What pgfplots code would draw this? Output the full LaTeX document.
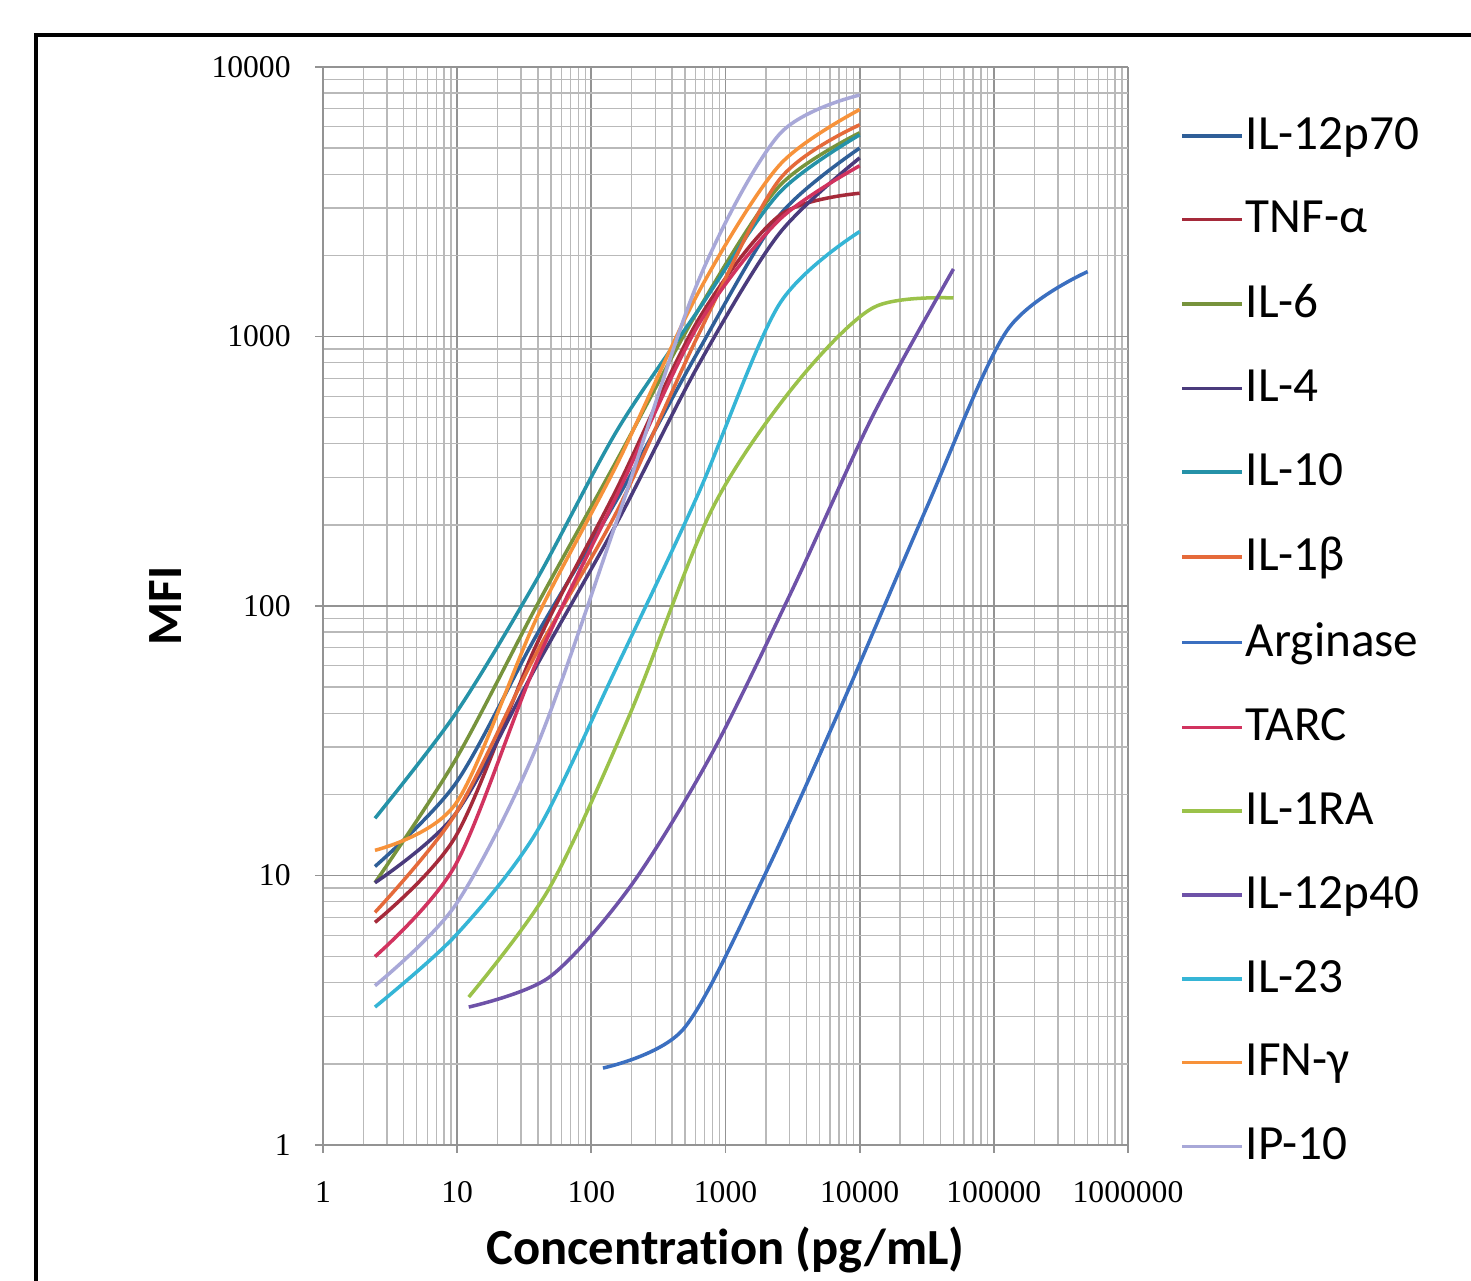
\documentclass[border=0pt]{standalone}
\usepackage{fontspec}
\setmainfont{Carlito}[Ligatures=NoCommon]
\newfontfamily\tickfont{Liberation Serif}
\usepackage{pgfplots}
\pgfplotsset{compat=1.18}

\definecolor{cP70}{HTML}{2F5F98}
\definecolor{cTNF}{HTML}{A52A3A}
\definecolor{cIL6}{HTML}{77933C}
\definecolor{cIL4}{HTML}{4A3B7C}
\definecolor{cIL10}{HTML}{2592A8}
\definecolor{cIL1b}{HTML}{E56A3A}
\definecolor{cArg}{HTML}{3B6FC0}
\definecolor{cTARC}{HTML}{D1335F}
\definecolor{cRA}{HTML}{9BC24A}
\definecolor{cP40}{HTML}{6E52A8}
\definecolor{cIL23}{HTML}{35B5D6}
\definecolor{cIFN}{HTML}{F7923A}
\definecolor{cIP10}{HTML}{A8A8D8}

\begin{document}
\begin{tikzpicture}[x=1mm,y=1mm]
\clip (0,0) rectangle (147.1,128);
\fill[white] (0,0) rectangle (147.1,128);
\draw[line width=0.45mm] (3.6,124.5) rectangle (160,-10);
\begin{axis}[
    at={(32.3mm,13.5mm)}, anchor=south west,
    scale only axis, width=80.5mm, height=107.8mm,
    xmode=log, ymode=log,
    xmin=1, xmax=1000000, ymin=1, ymax=10000,
    xtick={1,10,100,1000,10000,100000,1000000},
    xticklabels={1,10,100,1000,10000,100000,1000000},
    ytick={1,10,100,1000,10000},
    yticklabels={1,10,100,1000,10000},
    grid=both,
    major grid style={gray!85, line width=0.55pt},
    minor grid style={gray!55, line width=0.4pt},
    axis lines*=left,
    axis line style={gray!85, line width=0.6pt},
    tick align=outside, major tick length=0.8mm, minor tick length=0pt,
    tick style={gray!85, line width=0.5pt},
    /pgf/number format/assume math mode=true,
    tick label style={font=\tickfont\fontsize{9}{10}\selectfont},
    xticklabel style={yshift=-1.6mm},
    yticklabel style={xshift=-1.2mm},
    xlabel={Concentration (pg/mL)},
    xlabel style={at={(axis description cs:0.5,-0.0974)}, anchor=center, font=\fontsize{14.4}{16}\selectfont\bfseries},
    ylabel={MFI},
    ylabel style={at={(axis description cs:-0.196,0.5)}, anchor=center, font=\fontsize{14}{16}\selectfont\bfseries},
    legend style={at={(axis description cs:1.064,0.956)}, anchor=north west, draw=none, fill=none,
        font=\fontsize{14}{16}\selectfont, row sep=4.25mm, inner sep=0pt,
        nodes={inner sep=0.6pt}},
    legend cell align=left,
    legend image code/.code={\draw[#1, line width=1pt] (0mm,0mm) -- (6mm,0mm);},
    every axis plot/.append style={line width=1pt, smooth},
]
\addplot[cP70] coordinates {(2.44,10.8) (9.77,22) (39.06,78) (156.25,250) (625,880) (2500,2800) (10000,5000)};
\addlegendentry{IL-12p70}
\addplot[cTNF] coordinates {(2.44,6.7) (9.77,14) (39.06,72) (156.25,275) (625,1150) (2500,2800) (10000,3400)};
\addlegendentry{TNF-α}
\addplot[cIL6] coordinates {(2.44,9.4) (9.77,27) (39.06,100) (156.25,350) (625,1250) (2500,3600) (10000,5700)};
\addlegendentry{IL-6}
\addplot[cIL4] coordinates {(2.44,9.4) (9.77,17) (39.06,60) (156.25,205) (625,780) (2500,2400) (10000,4600)};
\addlegendentry{IL-4}
\addplot[cIL10] coordinates {(2.44,16.3) (9.77,40) (39.06,125) (156.25,450) (625,1250) (2500,3400) (10000,5600)};
\addlegendentry{IL-10}
\addplot[cIL1b] coordinates {(2.44,7.3) (9.77,17) (39.06,67) (156.25,226) (625,1010) (2500,3800) (10000,6100)};
\addlegendentry{IL-1β}
\addplot[cArg] coordinates {(122,1.93) (488,2.7) (1953,10) (7813,46) (31250,229) (125000,1050) (500000,1740)};
\addlegendentry{Arginase}
\addplot[cTARC] coordinates {(2.44,5.0) (9.77,11) (39.06,62) (156.25,260) (625,1100) (2500,2700) (10000,4300)};
\addlegendentry{TARC}
\addplot[cRA] coordinates {(12.2,3.54) (48.8,9.0) (195.3,40) (781.25,225) (3125,640) (12500,1276) (50000,1390)};
\addlegendentry{IL-1RA}
\addplot[cP40] coordinates {(12.2,3.25) (48.8,4.2) (195.3,9.1) (781.25,28) (3125,114) (12500,507) (50000,1780)};
\addlegendentry{IL-12p40}
\addplot[cIL23] coordinates {(2.44,3.25) (9.77,6.0) (39.06,14.5) (156.25,60) (625,260) (2500,1310) (10000,2450)};
\addlegendentry{IL-23}
\addplot[cIFN] coordinates {(2.44,12.4) (9.77,18.5) (39.06,90) (156.25,338) (625,1450) (2500,4300) (10000,6950)};
\addlegendentry{IFN-γ}
\addplot[cIP10] coordinates {(2.44,3.9) (9.77,7.8) (39.06,30) (156.25,210) (625,1600) (2500,5600) (10000,7870)};
\addlegendentry{IP-10}
\end{axis}
\end{tikzpicture}
\end{document}
